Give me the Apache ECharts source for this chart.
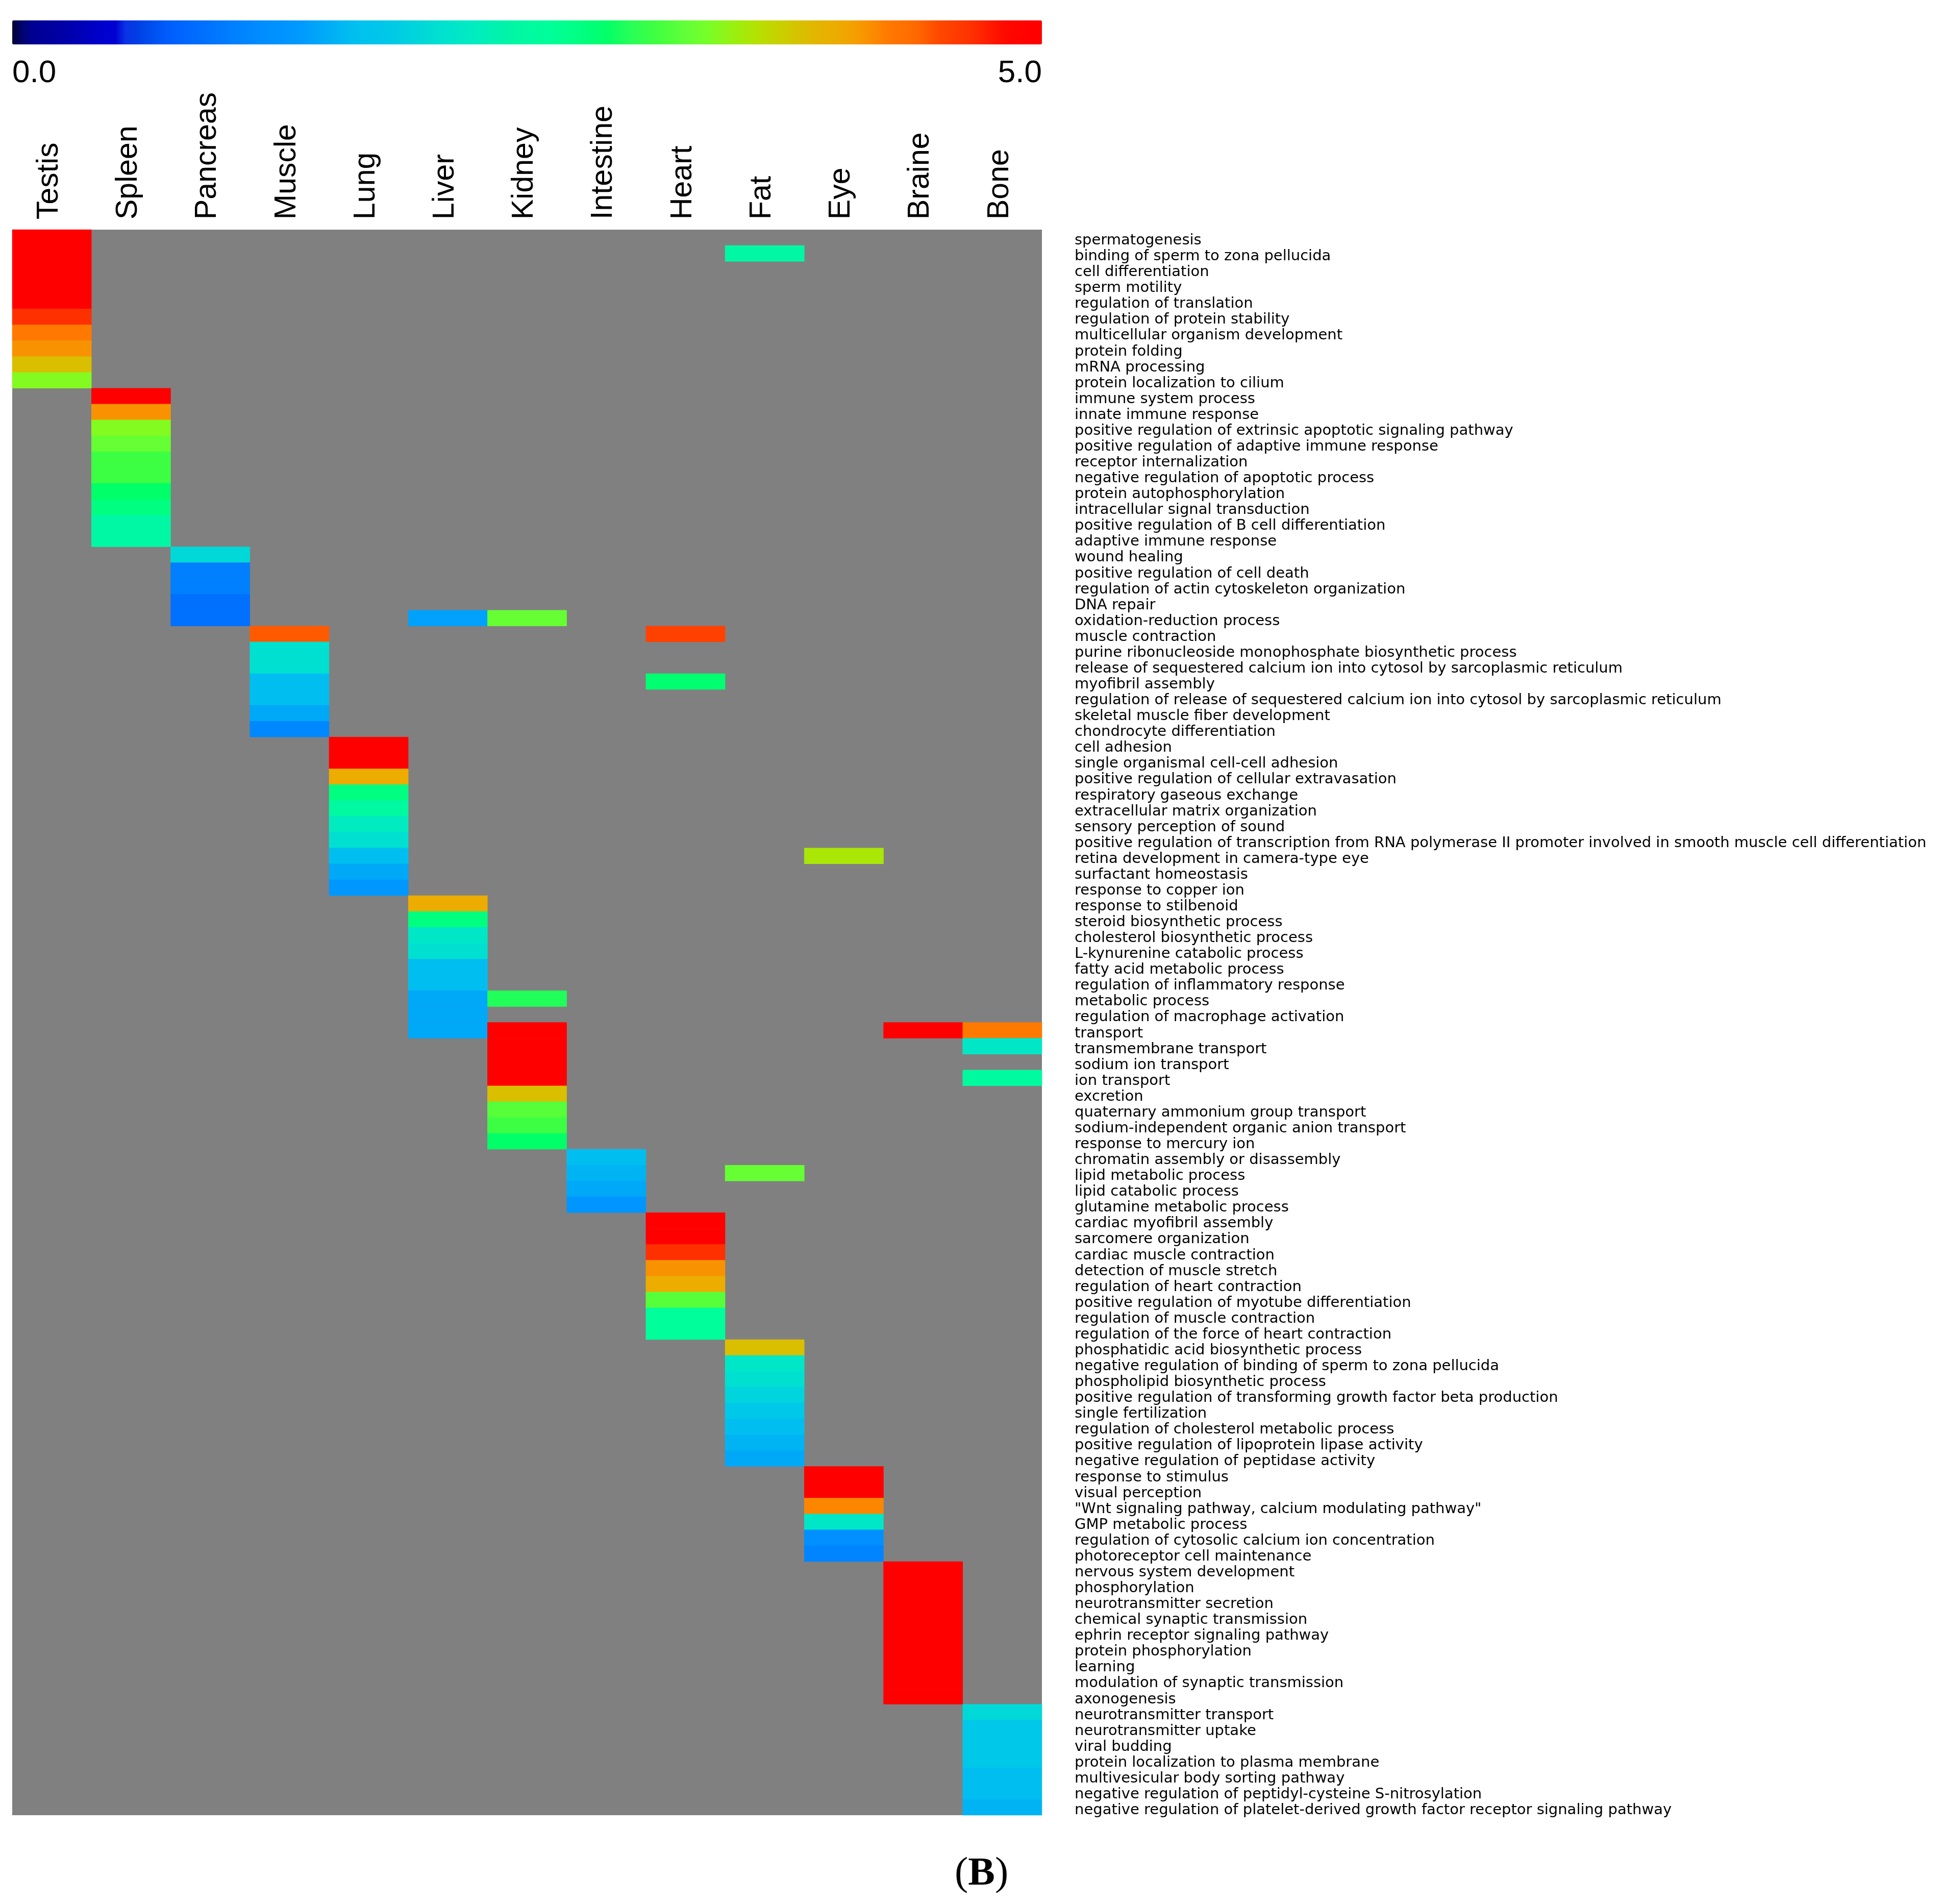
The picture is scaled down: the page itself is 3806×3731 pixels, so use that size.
<!DOCTYPE html>
<html>
<head>
<meta charset="utf-8">
<style>
    html, body {margin: 0; padding: 0; background: #fff;}
    #chart {width: 3806px; height: 3731px;}
</style>
<script src="https://cdn.jsdelivr.net/npm/echarts@6/dist/echarts.min.js"></script>
</head>
<body>
<div id="chart"></div>
<script>
const tissues = ['Testis', 'Spleen', 'Pancreas', 'Muscle', 'Lung', 'Liver', 'Kidney', 'Intestine', 'Heart', 'Fat', 'Eye', 'Braine', 'Bone'];

const terms = [
    'spermatogenesis', 'binding of sperm to zona pellucida', 'cell differentiation', 'sperm motility',
    'regulation of translation', 'regulation of protein stability', 'multicellular organism development',
    'protein folding', 'mRNA processing', 'protein localization to cilium', 'immune system process',
    'innate immune response', 'positive regulation of extrinsic apoptotic signaling pathway',
    'positive regulation of adaptive immune response', 'receptor internalization',
    'negative regulation of apoptotic process', 'protein autophosphorylation', 'intracellular signal transduction',
    'positive regulation of B cell differentiation', 'adaptive immune response', 'wound healing',
    'positive regulation of cell death', 'regulation of actin cytoskeleton organization', 'DNA repair',
    'oxidation-reduction process', 'muscle contraction', 'purine ribonucleoside monophosphate biosynthetic process',
    'release of sequestered calcium ion into cytosol by sarcoplasmic reticulum', 'myofibril assembly',
    'regulation of release of sequestered calcium ion into cytosol by sarcoplasmic reticulum',
    'skeletal muscle fiber development', 'chondrocyte differentiation', 'cell adhesion',
    'single organismal cell-cell adhesion', 'positive regulation of cellular extravasation',
    'respiratory gaseous exchange', 'extracellular matrix organization', 'sensory perception of sound',
    'positive regulation of transcription from RNA polymerase II promoter involved in smooth muscle cell differentiation',
    'retina development in camera-type eye', 'surfactant homeostasis', 'response to copper ion',
    'response to stilbenoid', 'steroid biosynthetic process', 'cholesterol biosynthetic process',
    'L-kynurenine catabolic process', 'fatty acid metabolic process', 'regulation of inflammatory response',
    'metabolic process', 'regulation of macrophage activation', 'transport', 'transmembrane transport',
    'sodium ion transport', 'ion transport', 'excretion', 'quaternary ammonium group transport',
    'sodium-independent organic anion transport', 'response to mercury ion', 'chromatin assembly or disassembly',
    'lipid metabolic process', 'lipid catabolic process', 'glutamine metabolic process',
    'cardiac myofibril assembly', 'sarcomere organization', 'cardiac muscle contraction',
    'detection of muscle stretch', 'regulation of heart contraction', 'positive regulation of myotube differentiation',
    'regulation of muscle contraction', 'regulation of the force of heart contraction',
    'phosphatidic acid biosynthetic process', 'negative regulation of binding of sperm to zona pellucida',
    'phospholipid biosynthetic process', 'positive regulation of transforming growth factor beta production',
    'single fertilization', 'regulation of cholesterol metabolic process',
    'positive regulation of lipoprotein lipase activity', 'negative regulation of peptidase activity',
    'response to stimulus', 'visual perception', '"Wnt signaling pathway, calcium modulating pathway"',
    'GMP metabolic process', 'regulation of cytosolic calcium ion concentration', 'photoreceptor cell maintenance',
    'nervous system development', 'phosphorylation', 'neurotransmitter secretion', 'chemical synaptic transmission',
    'ephrin receptor signaling pathway', 'protein phosphorylation', 'learning', 'modulation of synaptic transmission',
    'axonogenesis', 'neurotransmitter transport', 'neurotransmitter uptake', 'viral budding',
    'protein localization to plasma membrane', 'multivesicular body sorting pathway',
    'negative regulation of peptidyl-cysteine S-nitrosylation',
    'negative regulation of platelet-derived growth factor receptor signaling pathway'
];

// [term number (1 = first label), value]; cells not listed stay grey
const testis = [[1, 5], [2, 5], [3, 5], [4, 5], [5, 5], [6, 4.66], [7, 4.25], [8, 4.15], [9, 3.84], [10, 3.42]];
const spleen = [[11, 5], [12, 4.15], [13, 3.42], [14, 3.29], [15, 3.11], [16, 3.11], [17, 2.89], [18, 2.77], [19, 2.45], [20, 2.45]];
const pancreas = [[21, 2.0], [22, 1.08], [23, 1.08], [24, 0.93], [25, 0.93]];
const muscle = [[26, 4.44], [27, 2.08], [28, 2.08], [29, 1.66], [30, 1.66], [31, 1.5], [32, 1.17]];
const lung = [[33, 5], [34, 5], [35, 4.0], [36, 2.77], [37, 2.5], [38, 2.24], [39, 2.08], [40, 1.66], [41, 1.5], [42, 1.38]];
const liver = [[25, 1.45], [43, 4.0], [44, 2.77], [45, 2.17], [46, 2.08], [47, 1.66], [48, 1.66], [49, 1.5], [50, 1.5], [51, 1.5]];
const kidney = [[25, 3.29], [49, 2.98], [51, 5], [52, 5], [53, 5], [54, 5], [55, 3.84], [56, 3.22], [57, 3.11], [58, 2.89]];
const intestine = [[59, 1.66], [60, 1.58], [61, 1.5], [62, 1.33]];
const heart = [[26, 4.55], [29, 2.85], [63, 5], [64, 5], [65, 4.66], [66, 4.15], [67, 4.0], [68, 3.22], [69, 2.6], [70, 2.6]];
const fat = [[2, 2.45], [60, 3.29], [71, 3.84], [72, 2.17], [73, 2.08], [74, 1.95], [75, 1.83], [76, 1.66], [77, 1.58], [78, 1.5]];
const eye = [[40, 3.57], [79, 5], [80, 5], [81, 4.2], [82, 2.17], [83, 1.25], [84, 1.12]];
const braine = [[51, 5], [85, 5], [86, 5], [87, 5], [88, 5], [89, 5], [90, 5], [91, 5], [92, 5], [93, 5]];
const bone = [[51, 4.25], [52, 2.17], [54, 2.55], [94, 2.0], [95, 1.83], [96, 1.83], [97, 1.83], [98, 1.66], [99, 1.66], [100, 1.58]];

const columns = [testis, spleen, pancreas, muscle, lung, liver, kidney, intestine, heart, fat, eye, braine, bone];

// colour bar: [value, colour]
const rampStops = [
    [0, '#000030'], [0.03, '#000850'], [0.07, '#000090'], [0.2, '#0000a0'], [0.3, '#0000b0'], [0.44, '#0000d0'],
    [0.527, '#0000d0'], [0.53, '#1030e8'], [0.585, '#0038e0'], [0.68, '#0050f0'], [0.78, '#0060ff'], [0.93, '#0070ff'],
    [1.08, '#0080ff'], [1.25, '#0090ff'], [1.38, '#0098ff'], [1.5, '#00a8f8'], [1.66, '#00c0f0'], [1.83, '#00c8e8'],
    [1.95, '#00d4dc'], [2.08, '#00e0d0'], [2.24, '#00ecc0'], [2.4, '#00f4a8'], [2.62, '#00ff98'], [2.77, '#00ff80'],
    [2.89, '#00ff68'], [3.0, '#28ff58'], [3.13, '#40ff40'], [3.26, '#60ff38'], [3.38, '#78ff28'], [3.5, '#98f010'],
    [3.63, '#b8e000'], [3.78, '#d0c800'], [3.88, '#e0b800'], [4.0, '#ecac00'], [4.13, '#f89800'], [4.25, '#ff7800'],
    [4.38, '#ff6c00'], [4.5, '#ff4800'], [4.66, '#ff3000'], [4.82, '#ff0800'], [4.95, '#ff0000'], [5, '#ff0000']
];

function rampColors(count) {
    let out = [];
    for (let i = 0; i < count; i++) {
        let v = 5 * i / (count - 1);
        let k = 0;
        while (k < rampStops.length - 2 && rampStops[k + 1][0] < v) k++;
        let t = (v - rampStops[k][0]) / (rampStops[k + 1][0] - rampStops[k][0]);
        out.push(echarts.color.lerp(Math.min(t, 1), [rampStops[k][1], rampStops[k + 1][1]]));
    }
    return out;
}

let cells = [];
columns.forEach((col, c) => {
    col.forEach((d) => {
        cells.push([c, d[0] - 1, d[1]]);
    });
});

let myChart = echarts.init(document.getElementById('chart'));
myChart.setOption({
    animation: false,
    backgroundColor: '#fff',
    title: [
        {text: '0.0', left: 24, top: 113, padding: 0, textStyle: {fontFamily: 'Liberation Sans', fontSize: 62, fontWeight: 'normal', color: '#000'}},
        {text: '5.0', right: 1764, top: 113, padding: 0, textStyle: {fontFamily: 'Liberation Sans', fontSize: 62, fontWeight: 'normal', color: '#000'}},
        {
            text: '{p|(}{b|B}{p|)}', left: 1871, top: 3633, padding: 0,
            textStyle: {
                rich: {
                    p: {fontFamily: 'Liberation Serif', fontSize: 79, fontWeight: 'normal', color: '#000'},
                    b: {fontFamily: 'Liberation Serif', fontSize: 79, fontWeight: 'bold', color: '#000'}
                }
            }
        }
    ],
    grid: {left: 24, top: 450, width: 2018, height: 3107, show: true, backgroundColor: '#808080', borderWidth: 0},
    xAxis: {
        type: 'category',
        position: 'top',
        data: tissues,
        axisLine: {show: false},
        axisTick: {show: false},
        splitLine: {show: false},
        // lineHeight with this alignment nudges the turned labels left of the column centre
        axisLabel: {interval: 0, rotate: -90, margin: 20, verticalAlign: 'bottom', lineHeight: 10, fontFamily: 'Liberation Sans', fontSize: 59, color: '#000'}
    },
    yAxis: {
        type: 'category',
        position: 'right',
        inverse: true,
        data: terms,
        axisLine: {show: false},
        axisTick: {show: false},
        splitLine: {show: false},
        // same trick, labels sit a little under the row centre
        axisLabel: {interval: 0, margin: 64, verticalAlign: 'top', lineHeight: 12, fontFamily: 'DejaVu Sans', fontSize: 29, color: '#000'}
    },
    visualMap: {
        type: 'continuous',
        min: 0,
        max: 5,
        orient: 'horizontal',
        left: 24,
        top: 40,
        padding: 0,
        itemWidth: 47,
        itemHeight: 2018,
        calculable: false,
        text: null,
        inRange: {color: rampColors(400)}
    },
    series: [{
        type: 'heatmap',
        data: cells,
        progressive: 0,
        emphasis: {disabled: true},
        itemStyle: {borderWidth: 0}
    }]
});
</script>
</body>
</html>
